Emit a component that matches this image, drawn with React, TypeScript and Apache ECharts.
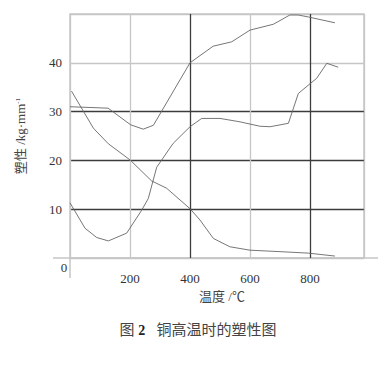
import React, { useEffect, useRef } from "react";
import * as echarts from "echarts";

// Curve A (upper curve)
const tempsA = [0, 127, 202, 244, 278, 400, 477, 539, 600, 678, 733, 760, 794, 883];
const valuesA = [31.0, 30.7, 27.3, 26.4, 27.2, 40.0, 43.4, 44.3, 46.7, 47.9, 49.8, 49.8, 49.4, 48.2];
// Curve B (U-shaped then rising)
const tempsB = [0, 50, 89, 128, 189, 239, 261, 289, 344, 400, 439, 500, 567, 633, 667, 728, 761, 794, 822, 856, 894];
const valuesB = [11.3, 6.1, 4.2, 3.5, 5.1, 9.8, 12.2, 18.6, 23.5, 26.9, 28.6, 28.6, 27.9, 27.0, 26.9, 27.6, 33.7, 35.4, 36.8, 39.9, 39.1];
// Curve C (falling)
const tempsC = [5, 78, 128, 200, 272, 322, 400, 433, 478, 533, 600, 700, 794, 883];
const valuesC = [34.2, 26.6, 23.4, 20.1, 15.8, 14.3, 10.1, 7.8, 4.0, 2.3, 1.6, 1.3, 1.0, 0.4];

const xTicks = [0, 200, 400, 600, 800];
const yTicks = [0, 10, 20, 30, 40, 50];

const SERIF = "'Liberation Serif', 'Times New Roman', serif";
const CJK = "'Liberation Serif', 'Noto Sans CJK SC', serif";
const GRAY = "#c6c6c6";
const DARK = "#3c3c3c";
const LINE = "#666666";

const pair = (xs: number[], ys: number[]) => xs.map((x, i) => [x, ys[i]]);

export default function App() {
  const ref = useRef<HTMLDivElement>(null);
  useEffect(() => {
    if (!ref.current) return;
    const chart = echarts.init(ref.current, null, { renderer: "svg" });
    const mk = (name: string, xs: number[], ys: number[]) => ({
      name,
      type: "line",
      data: pair(xs, ys),
      showSymbol: false,
      symbol: "none",
      lineStyle: { color: LINE, width: 0.9 },
      z: 5,
    });
    chart.setOption({
      animation: false,
      backgroundColor: "#ffffff",
      grid: {
        left: 70,
        right: 23,
        top: 14,
        bottom: 116,
        show: true,
        borderColor: GRAY,
        borderWidth: 1.5,
      },
      xAxis: {
        type: "value",
        min: 0,
        max: 980,
        interval: 200,
        axisLine: { show: false },
        axisTick: { show: false },
        axisLabel: {
          margin: 14,
          color: "#333",
          fontFamily: SERIF,
          fontSize: 13,
          formatter: (v: number) => (v === 0 || !xTicks.includes(v) ? "" : String(v)),
        },
        splitLine: {
          show: true,
          lineStyle: { color: [GRAY, GRAY, DARK, GRAY, DARK], width: 1.3 },
        },
      },
      yAxis: {
        type: "value",
        min: 0,
        max: 50,
        interval: 10,
        axisLine: { show: false },
        axisTick: { show: false },
        axisLabel: {
          margin: 8,
          color: "#333",
          fontFamily: SERIF,
          fontSize: 13,
          formatter: (v: number) => (v === 0 || v === 50 || !yTicks.includes(v) ? "" : String(v)),
        },
        splitLine: {
          show: true,
          lineStyle: { color: [GRAY, DARK, DARK, DARK, GRAY, GRAY], width: 1.3 },
        },
        name: "{a|塑性 /kg·mm}{s|-1}",
        nameLocation: "middle",
        nameRotate: 90,
        nameGap: 43,
        nameTextStyle: {
          rich: {
            a: { fontFamily: CJK, fontSize: 13, color: "#444" },
            s: { fontFamily: SERIF, fontSize: 7, color: "#444", verticalAlign: "top", padding: [0, 0, 6, 0] },
          },
        },
      },
      graphic: [
        { type: "line", shape: { x1: 33, y1: 0.5, x2: 291, y2: 0.5 }, style: { stroke: "#c0c0c0", lineWidth: 2 } },
        { type: "line", shape: { x1: 53, y1: 258, x2: 378, y2: 258 }, style: { stroke: GRAY, lineWidth: 1.5 } },
        { type: "line", shape: { x1: 70, y1: 258, x2: 70, y2: 278 }, style: { stroke: GRAY, lineWidth: 1.5 } },
        {
          type: "text",
          x: 64,
          y: 267,
          style: { text: "0", font: `13px ${SERIF}`, fill: "#333", textAlign: "center", textVerticalAlign: "middle" },
        },
        {
          type: "text",
          x: 222,
          y: 296,
          style: { text: "温度 /℃", font: `13px ${CJK}`, fill: "#444", textAlign: "center", textVerticalAlign: "middle" },
        },
        {
          type: "text",
          x: 198,
          y: 330,
          style: {
            text: "{a|图 }{b|2}{a|   铜高温时的塑性图}",
            textAlign: "center",
            textVerticalAlign: "middle",
            rich: {
              a: { fontFamily: CJK, fontSize: 15, fill: "#444" },
              b: { fontFamily: SERIF, fontSize: 14, fontWeight: "bold", fill: "#222" },
            },
          },
        },
      ],
      series: [mk("A", tempsA, valuesA), mk("B", tempsB, valuesB), mk("C", tempsC, valuesC)],
    });
    return () => chart.dispose();
  }, []);
  return <div ref={ref} style={{ width: 387, height: 374, margin: -8 }} />;
}
